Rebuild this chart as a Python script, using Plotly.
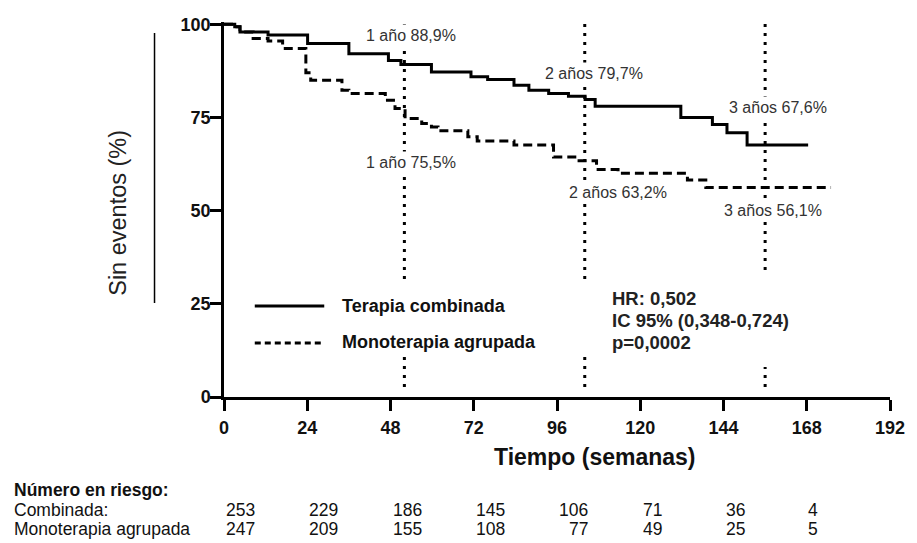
import plotly.graph_objects as go

# ---------------- data ----------------
weeks_comb = [0, 3.1, 4.6, 12.7, 24.1, 36, 47.4, 51, 59.8, 71.2, 76, 83.6, 87.9, 93.6,
              99.3, 104.1, 107, 131.7, 140.8, 145, 150.8, 168.4]
surv_comb = [100, 99.3, 97.9, 97.1, 94.8, 92.1, 90.3, 89.2, 87.2, 85.9, 85.2, 83.6, 82.3, 81.4,
             80.7, 79.8, 78.0, 75.0, 73.1, 70.9, 67.6, 67.6]

weeks_mono = [0, 3.1, 4.6, 8.4, 12.7, 16.9, 23.6, 25, 34, 36, 46.5, 49.3, 52.2, 57, 59.8,
              61.7, 70.3, 73, 83.6, 95, 101.7, 107.4, 113.6, 133.6, 138.9, 175]
surv_mono = [100, 99.3, 97.9, 96.2, 95.5, 93.5, 87.0, 85.0, 82.3, 81.4, 79.6, 77.4, 74.7, 73.4, 72.4,
             71.4, 69.8, 68.7, 67.6, 64.4, 63.4, 61.0, 60.0, 58.2, 56.2, 56.2]

landmark_weeks = [52, 104, 156]
labels_comb = ["1 año 88,9%", "2 años 79,7%", "3 años 67,6%"]
labels_mono = ["1 año 75,5%", "2 años 63,2%", "3 años 56,1%"]

risk_times = [0, 24, 48, 72, 96, 120, 144, 168]
risk_comb = [253, 229, 186, 145, 106, 71, 36, 4]
risk_mono = [247, 209, 155, 108, 77, 49, 25, 5]

x_ticks = [0, 24, 48, 72, 96, 120, 144, 168, 192]
y_ticks = [0, 25, 50, 75, 100]

series_names = ["Terapia combinada", "Monoterapia agrupada"]
stats_text = ["HR: 0,502", "IC 95% (0,348-0,724)", "p=0,0002"]
risk_title = "Número en riesgo:"
risk_rows = ["Combinada:", "Monoterapia agrupada"]

# ---------------- style ----------------
FONT = "Liberation Sans, Arial, sans-serif"
W, H = 917, 543
L, R, T, B = 224, 22, 22, 146
PW, PH = W - L - R, H - T - B
YMAX = 100.6

def px_x(px):  # pixel -> paper x
    return (px - L) / PW

def px_y(py):  # pixel -> paper y
    return (H - B - py) / PH

def wk(px):  # pixel -> data week
    return (px - L) / PW * 192

def pc(py):  # pixel -> data %
    return (H - B - py) / PH * YMAX

fig = go.Figure()
fig.add_trace(go.Scatter(x=weeks_comb, y=surv_comb, mode="lines", line_shape="hv",
                         line=dict(color="black", width=3), name=series_names[0],
                         hoverinfo="skip"))
fig.add_trace(go.Scatter(x=weeks_mono, y=surv_mono, mode="lines", line_shape="hv",
                         line=dict(color="black", width=3, dash="9px,5px"), name=series_names[1],
                         hoverinfo="skip"))

shapes = []
for w in landmark_weeks:
    shapes.append(dict(type="line", xref="x", yref="y", x0=w, x1=w, y0=2.7, y1=100.5,
                       line=dict(color="black", width=3, dash="3px,6px"), layer="above"))
shapes.append(dict(type="rect", xref="x", yref="y", x0=wk(240), x1=wk(600), y0=pc(357), y1=pc(280),
                   fillcolor="white", line=dict(width=0), layer="above"))
shapes.append(dict(type="rect", xref="x", yref="y", x0=wk(740), x1=wk(800), y0=pc(367), y1=pc(272),
                   fillcolor="white", line=dict(width=0), layer="above"))
shapes.append(dict(type="line", xref="x", yref="y", x0=wk(255), x1=wk(325), y0=pc(306), y1=pc(306),
                   line=dict(color="black", width=3), layer="above"))
shapes.append(dict(type="line", xref="x", yref="y", x0=wk(255), x1=wk(325), y0=pc(343), y1=pc(343),
                   line=dict(color="black", width=3, dash="6px,4px"), layer="above"))
shapes.append(dict(type="line", xref="paper", yref="paper", x0=px_x(154), x1=px_x(154),
                   y0=px_y(33), y1=px_y(303), line=dict(color="black", width=1.5)))

ann = []
comb_pos = [(412, 35), (597, 73), (782, 107)]
mono_pos = [(412, 162), (621, 192), (777, 210)]
for lab, (x, y) in zip(labels_comb, comb_pos):
    ann.append(dict(x=wk(x), y=pc(y), xref="x", yref="y", text=lab, showarrow=False,
                    xanchor="center", yanchor="middle",
                    font=dict(family=FONT, size=16, color="#333"), bgcolor="white", borderpad=2))
for lab, (x, y) in zip(labels_mono, mono_pos):
    ann.append(dict(x=wk(x), y=pc(y), xref="x", yref="y", text=lab, showarrow=False,
                    xanchor="center", yanchor="middle",
                    font=dict(family=FONT, size=16, color="#333"), bgcolor="white", borderpad=2))
for name, y in zip(series_names, [306, 342]):
    ann.append(dict(x=wk(341), y=pc(y), xref="x", yref="y", text="<b>%s</b>" % name, showarrow=False,
                    xanchor="left", yanchor="middle", font=dict(family=FONT, size=18, color="#111")))
for line, y in zip(stats_text, [298, 320, 342]):
    ann.append(dict(x=wk(613), y=pc(y), xref="x", yref="y", text="<b>%s</b>" % line, showarrow=False,
                    xanchor="left", yanchor="middle", font=dict(family=FONT, size=18.5, color="#222")))
ann.append(dict(x=px_x(117), y=px_y(213), xref="paper", yref="paper", text="Sin eventos (%)",
                textangle=-90, showarrow=False, xanchor="center", yanchor="middle",
                font=dict(family=FONT, size=23.5, color="#222")))
ann.append(dict(x=px_x(598), y=px_y(457), xref="paper", yref="paper", text="<b>Tiempo (semanas)</b>",
                showarrow=False, xanchor="center", yanchor="middle",
                font=dict(family=FONT, size=23, color="#111")))
row_y = [490, 510, 529]
for txt, y in zip(["<b>%s</b>" % risk_title] + risk_rows, row_y):
    ann.append(dict(x=px_x(10), y=px_y(y), xref="paper", yref="paper", text=txt,
                    showarrow=False, xanchor="left", yanchor="middle",
                    font=dict(family=FONT, size=17.5, color="#111")))
DIGIT = 17.5 * 0.556
for t, a, b in zip(risk_times, risk_comb, risk_mono):
    right = 4 + len(str(a)) * DIGIT
    for val, y in ((a, row_y[1]), (b, row_y[2])):
        ann.append(dict(x=t, y=px_y(y), xref="x", yref="paper", text=str(val), showarrow=False,
                        xanchor="right", yanchor="middle", xshift=right,
                        font=dict(family=FONT, size=17.5, color="#111")))

fig.update_layout(
    width=W, height=H, autosize=False,
    margin=dict(l=L, r=R, t=T, b=B),
    paper_bgcolor="white", plot_bgcolor="white",
    showlegend=False,
    shapes=shapes, annotations=ann,
    xaxis=dict(range=[0, 192], tickvals=x_ticks, ticktext=[str(v) for v in x_ticks],
               showgrid=False, zeroline=False, showline=True, linecolor="black", linewidth=2.5,
               ticks="outside", ticklen=11, tickwidth=2.5, tickcolor="black", ticklabelstandoff=2,
               tickfont=dict(family=FONT, size=18, color="#111", weight="bold"), fixedrange=True),
    yaxis=dict(range=[0, YMAX], tickvals=y_ticks, ticktext=[str(v) for v in y_ticks],
               showgrid=False, zeroline=False, showline=True, linecolor="black", linewidth=2.5,
               ticks="outside", ticklen=11, tickwidth=2.5, tickcolor="black", ticklabelstandoff=-4,
               tickfont=dict(family=FONT, size=18, color="#111", weight="bold"), fixedrange=True),
)

fig.write_html("out.html", config={"displayModeBar": False},
               post_script="document.body.style.margin='0px';document.body.style.overflow='hidden';")
